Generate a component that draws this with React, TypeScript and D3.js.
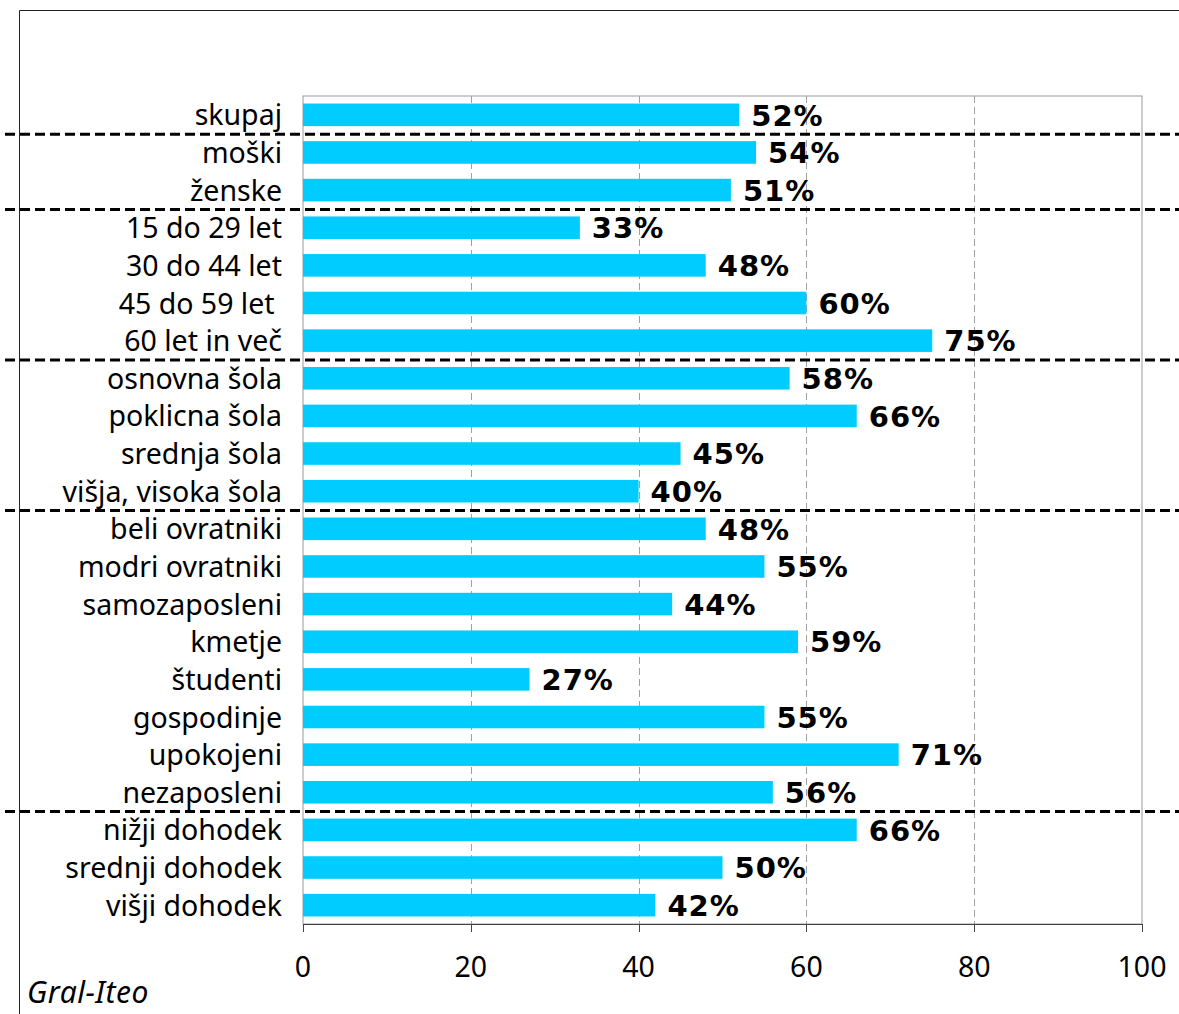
import React from "react";
import * as d3 from "d3";

const categories = [
  "skupaj",
  "moški",
  "ženske",
  "15 do 29 let",
  "30 do 44 let",
  "45 do 59 let ",
  "60 let in več",
  "osnovna šola",
  "poklicna šola",
  "srednja šola",
  "višja, visoka šola",
  "beli ovratniki",
  "modri ovratniki",
  "samozaposleni",
  "kmetje",
  "študenti",
  "gospodinje",
  "upokojeni",
  "nezaposleni",
  "nižji dohodek",
  "srednji dohodek",
  "višji dohodek",
];

const values = [52, 54, 51, 33, 48, 60, 75, 58, 66, 45, 40, 48, 55, 44, 59, 27, 55, 71, 56, 66, 50, 42];

// first category of each group after a separator
const groupStarts = ["moški", "15 do 29 let", "osnovna šola", "beli ovratniki", "nižji dohodek"];

const xTicks = [0, 20, 40, 60, 80, 100];
const source = "Gral-Iteo";

const W = 1179;
const H = 1014;
const plot = { left: 303, right: 1142, top: 96, bottom: 924 };

export default function App() {
  const x = d3.scaleLinear().domain([0, 100]).range([plot.left, plot.right]);
  const y = d3
    .scaleBand<string>()
    .domain(categories)
    .range([plot.top, plot.bottom])
    .paddingInner(0.4)
    .paddingOuter(0.2);
  const step = y.step();
  const bw = y.bandwidth();
  const gap = (step - bw) / 2;

  const labelFont = "'Noto Sans', 'DejaVu Sans', sans-serif";

  return (
    <div style={{ position: "absolute", left: 0, top: 0 }}>
      <svg width={W} height={H} style={{ display: "block" }}>
        <rect x={0} y={0} width={W} height={H} fill="#fff" />
        {/* outer frame */}
        <line x1={19.5} y1={10.5} x2={W} y2={10.5} stroke="#222" strokeWidth={1} />
        <line x1={19.5} y1={10.5} x2={19.5} y2={H} stroke="#222" strokeWidth={1} />

        {/* plot border */}
        <rect
          x={plot.left}
          y={plot.top}
          width={plot.right - plot.left}
          height={plot.bottom - plot.top}
          fill="none"
          stroke="#999"
          strokeWidth={1}
        />
        {/* gridlines */}
        {xTicks.slice(1, -1).map((t) => (
          <line
            key={"g" + t}
            x1={Math.round(x(t)) + 0.5}
            x2={Math.round(x(t)) + 0.5}
            y1={plot.top}
            y2={plot.bottom}
            stroke="#a0a0a0"
            strokeWidth={1}
            strokeDasharray="7,4"
          />
        ))}

        {/* bars */}
        {categories.map((c, i) => (
          <rect
            key={"b" + c}
            x={x(0)}
            y={y(c)!}
            width={x(values[i]) - x(0)}
            height={bw}
            fill="#00ccff"
          />
        ))}

        {/* category labels */}
        {categories.map((c) => (
          <text
            key={"l" + c}
            x={282}
            y={y(c)! + bw / 2}
            dy="0.37em"
            textAnchor="end"
            fontFamily={labelFont}
            fontSize={28.5}
            fill="#000"
            style={{ whiteSpace: "pre" }}
          >
            {c}
          </text>
        ))}

        {/* value labels */}
        {categories.map((c, i) => (
          <text
            key={"v" + c}
            x={x(values[i]) + 12}
            y={y(c)! + bw / 2}
            dy="0.37em"
            textAnchor="start"
            fontFamily="'DejaVu Sans', sans-serif"
            fontWeight="bold"
            fontSize={29}
            letterSpacing={1}
            fill="#000"
          >
            {values[i] + "%"}
          </text>
        ))}

        {/* x axis */}
        <line x1={plot.left} x2={plot.right} y1={plot.bottom + 0.5} y2={plot.bottom + 0.5} stroke="#444" strokeWidth={1} />
        {xTicks.map((t) => (
          <g key={"t" + t}>
            <line
              x1={Math.round(x(t)) + 0.5}
              x2={Math.round(x(t)) + 0.5}
              y1={plot.bottom}
              y2={plot.bottom + 8}
              stroke="#444"
              strokeWidth={1}
            />
            <text
              x={x(t)}
              y={977}
              textAnchor="middle"
              fontFamily={labelFont}
              fontSize={28.5}
              fill="#000"
            >
              {t}
            </text>
          </g>
        ))}

        {/* group separators */}
        {groupStarts.map((c) => (
          <line
            key={"s" + c}
            x1={5}
            x2={W}
            y1={y(c)! - gap + 0.5}
            y2={y(c)! - gap + 0.5}
            stroke="#000"
            strokeWidth={3}
            strokeDasharray="10,5"
          />
        ))}

        <text
          x={27}
          y={1003}
          fontFamily={labelFont}
          fontStyle="italic"
          fontSize={30}
          letterSpacing={0.5}
          fill="#000"
        >
          {source}
        </text>
      </svg>
    </div>
  );
}
